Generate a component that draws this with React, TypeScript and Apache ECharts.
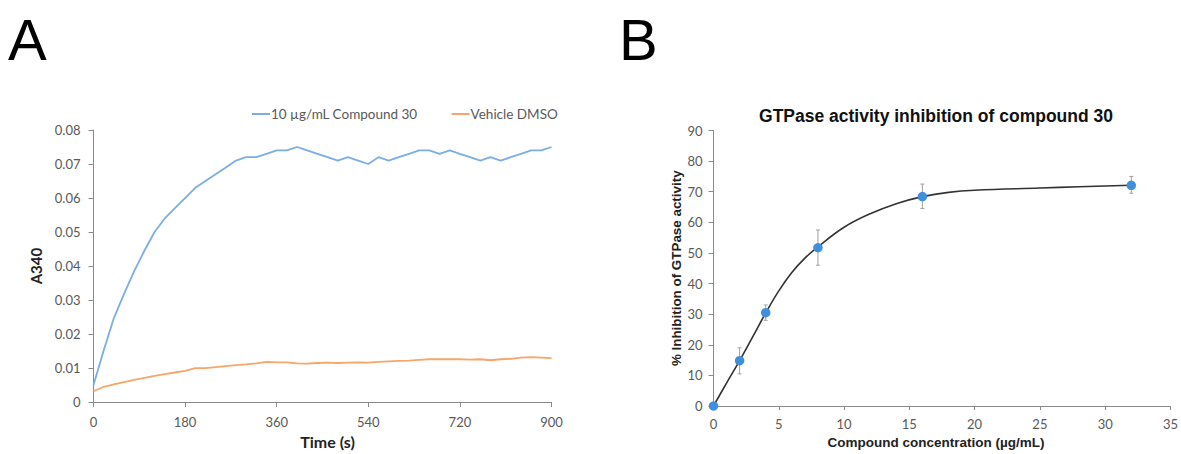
import React, { useEffect, useRef } from "react";
import * as echarts from "echarts";

const timeS = [0, 20, 40, 60, 80, 100, 120, 140, 160, 180, 200, 220, 240, 260, 280, 300, 320, 340, 360, 380, 400, 420, 440, 460, 480, 500, 520, 540, 560, 580, 600, 620, 640, 660, 680, 700, 720, 740, 760, 780, 800, 820, 840, 860, 880, 900];
const compound30 = [0.005, 0.0152, 0.0247, 0.0318, 0.0385, 0.0445, 0.05, 0.054, 0.057, 0.06, 0.063, 0.065, 0.067, 0.069, 0.071, 0.072, 0.072, 0.073, 0.074, 0.074, 0.075, 0.074, 0.073, 0.072, 0.071, 0.072, 0.071, 0.07, 0.072, 0.071, 0.072, 0.073, 0.074, 0.074, 0.073, 0.074, 0.073, 0.072, 0.071, 0.072, 0.071, 0.072, 0.073, 0.074, 0.074, 0.075];
const vehicleDMSO = [0.0032, 0.0045, 0.0052, 0.0059, 0.0065, 0.0071, 0.0077, 0.0082, 0.0087, 0.0092, 0.01, 0.01, 0.0103, 0.0106, 0.0109, 0.0111, 0.0114, 0.0118, 0.0117, 0.0117, 0.0114, 0.0113, 0.0115, 0.0116, 0.0115, 0.0116, 0.0117, 0.0116, 0.0118, 0.012, 0.0121, 0.0122, 0.0124, 0.0126, 0.0126, 0.0126, 0.0126, 0.0125, 0.0126, 0.0123, 0.0126, 0.0127, 0.0131, 0.0132, 0.0131, 0.0129];

const concentration = [0, 2, 4, 8, 16, 32];
const inhibition = [0, 14.8, 30.5, 51.7, 68.4, 72.1];
const errLow = [0, 10.5, 28, 46, 64.5, 69.5];
const errHigh = [0, 19, 33, 57.5, 72.5, 75];

const fitX = [0, 1, 2, 3, 4, 5, 6, 7, 8, 10, 12, 14, 16, 18, 20, 25, 28, 32];
const fitY = [0, 7.5, 14.8, 22.6, 30.4, 37.6, 43.6, 48.3, 52, 58.4, 62.8, 66.1, 68.4, 69.8, 70.5, 71.2, 71.6, 72.1];

const tickFont = "Lato, 'Open Sans', sans-serif";
const arial = "'Liberation Sans', Arial, sans-serif";
const axisColor = "#8a8a8a";
const labelColor = "#595959";

export default function App() {
  const ref = useRef<HTMLDivElement>(null);
  useEffect(() => {
    if (!ref.current) return;
    const chart = echarts.init(ref.current, undefined, { renderer: "svg" });
    const axisCommon = {
      axisLine: { show: true, lineStyle: { color: axisColor, width: 1 } },
      axisTick: { show: true, length: 5, lineStyle: { color: axisColor } },
      splitLine: { show: false },
      axisLabel: { color: labelColor, fontFamily: tickFont, fontSize: 13 },
    };
    chart.setOption({
      animation: false,
      backgroundColor: "#ffffff",
      grid: [
        { left: 93.5, top: 130, width: 458, height: 280 },
        { left: 713.5, top: 130.5, width: 460, height: 281 },
      ],
      legend: {
        left: 247,
        top: 102,
        itemWidth: 18,
        itemHeight: 2,
        itemGap: 34,
        icon: "rect",
        textStyle: { color: labelColor, fontFamily: tickFont, fontSize: 13.5, padding: [0, 0, 0, -4] },
        data: ["10 µg/mL Compound 30", "Vehicle DMSO"],
      },
      xAxis: [
        {
          ...axisCommon,
          gridIndex: 0,
          type: "value",
          min: 0,
          max: 900,
          interval: 180,
          axisLabel: { ...axisCommon.axisLabel, margin: 13 },
          name: "Time (s)",
          nameLocation: "middle",
          nameGap: 29,
          nameTextStyle: { color: "#222", fontFamily: tickFont, fontWeight: "bold", fontSize: 16, padding: [0, 0, 0, 10] },
        },
        {
          ...axisCommon,
          gridIndex: 1,
          type: "value",
          min: 0,
          max: 35,
          interval: 5,
          axisTick: { show: true, length: 4, lineStyle: { color: axisColor } },
          axisLabel: { ...axisCommon.axisLabel, margin: 11, showMaxLabel: true },
          name: "Compound concentration (µg/mL)",
          nameLocation: "middle",
          nameGap: 29,
          nameTextStyle: { color: "#222", fontFamily: arial, fontWeight: "bold", fontSize: 13.5, padding: [0, 12, 0, 0] },
        },
      ],
      yAxis: [
        {
          ...axisCommon,
          gridIndex: 0,
          type: "value",
          min: 0,
          max: 0.08,
          interval: 0.01,
          axisLabel: {
            ...axisCommon.axisLabel,
            margin: 13,
            formatter: (v: number) => (v === 0 ? "0" : v.toFixed(2)),
          },
          name: "A340",
          nameLocation: "middle",
          nameGap: 50,
          nameTextStyle: { color: "#222", fontFamily: tickFont, fontWeight: "bold", fontSize: 15 },
        },
        {
          ...axisCommon,
          gridIndex: 1,
          type: "value",
          min: 0,
          max: 90,
          interval: 10,
          axisLabel: { ...axisCommon.axisLabel, margin: 11 },
          name: "% Inhibition of GTPase activity",
          nameLocation: "middle",
          nameGap: 31,
          nameTextStyle: { color: "#222", fontFamily: arial, fontWeight: "bold", fontSize: 13.4 },
        },
      ],
      graphic: [
        { type: "text", left: 8, top: 10, style: { text: "A", fontSize: 58, fontFamily: arial, fill: "#000" } },
        { type: "text", left: 619, top: 10, style: { text: "B", fontSize: 58, fontFamily: arial, fill: "#000" } },
        {
          type: "text",
          x: 936,
          y: 116,
          style: {
            text: "GTPase activity inhibition of compound 30",
            fontSize: 17.5,
            fontWeight: "bold",
            fontFamily: arial,
            fill: "#111",
            align: "center",
            verticalAlign: "middle",
          },
        },
      ],
      series: [
        {
          name: "10 µg/mL Compound 30",
          type: "line",
          xAxisIndex: 0,
          yAxisIndex: 0,
          showSymbol: false,
          symbol: "none",
          data: timeS.map((t, i) => [t, compound30[i]]),
          lineStyle: { color: "#7badE6", width: 1.8 },
          itemStyle: { color: "#7badE6" },
        },
        {
          name: "Vehicle DMSO",
          type: "line",
          xAxisIndex: 0,
          yAxisIndex: 0,
          showSymbol: false,
          symbol: "none",
          data: timeS.map((t, i) => [t, vehicleDMSO[i]]),
          lineStyle: { color: "#f8a46a", width: 1.8 },
          itemStyle: { color: "#f8a46a" },
        },
        {
          name: "fit",
          type: "line",
          xAxisIndex: 1,
          yAxisIndex: 1,
          smooth: 0.4,
          showSymbol: false,
          symbol: "none",
          data: fitX.map((x, i) => [x, fitY[i]]),
          lineStyle: { color: "#333333", width: 1.6 },
          z: 2,
        },
        {
          name: "errors",
          type: "custom",
          xAxisIndex: 1,
          yAxisIndex: 1,
          data: concentration.map((x, i) => [x, errLow[i], errHigh[i]]),
          renderItem: (params: any, api: any) => {
            const lo = api.coord([api.value(0), api.value(1)]);
            const hi = api.coord([api.value(0), api.value(2)]);
            const style = { stroke: "#a0a0a0", lineWidth: 1 };
            return {
              type: "group",
              children: [
                { type: "line", shape: { x1: lo[0], y1: lo[1], x2: hi[0], y2: hi[1] }, style },
                { type: "line", shape: { x1: lo[0] - 2, y1: lo[1], x2: lo[0] + 2, y2: lo[1] }, style },
                { type: "line", shape: { x1: hi[0] - 2, y1: hi[1], x2: hi[0] + 2, y2: hi[1] }, style },
              ],
            };
          },
          z: 3,
        },
        {
          name: "data",
          type: "scatter",
          xAxisIndex: 1,
          yAxisIndex: 1,
          symbolSize: 9.5,
          data: concentration.map((x, i) => [x, inhibition[i]]),
          itemStyle: { color: "#3f8fdb", opacity: 1 },
          z: 4,
        },
      ],
    });
    return () => chart.dispose();
  }, []);
  return (
    <div
      ref={ref}
      style={{ position: "fixed", left: 0, top: 0, width: 1181, height: 454, background: "#fff" }}
    />
  );
}
